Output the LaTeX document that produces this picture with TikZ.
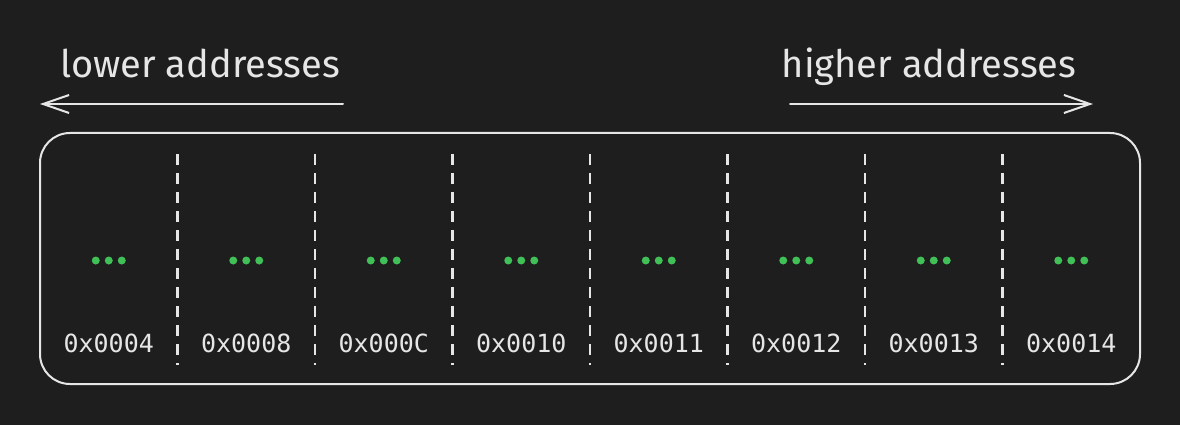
\documentclass[tikz,border=0pt]{standalone}
\usepackage{fontspec}
\setmainfont{Fira Sans}
\newfontfamily\monof{DejaVu Sans Mono}
\usetikzlibrary{arrows.meta}
\definecolor{bg}{HTML}{1E1E1E}
\definecolor{ink}{HTML}{E6E6E6}
\definecolor{dotgreen}{HTML}{40C057}
\tikzset{
  hand/.style={text=ink, font=\fontsize{38}{40}\selectfont, inner sep=0pt, anchor=base},
  addr/.style={text=ink, font=\monof\fontsize{25}{28}\selectfont, inner sep=0pt},
  sep/.style={draw=ink, line width=2.5pt, dash pattern=on 11pt off 8pt},
  dir/.style={draw=ink, line width=2pt, line cap=round, -{Straight Barb[length=26pt,width=18pt,line width=2pt]}},
  gdot/.style={fill=dotgreen, draw=none},
}
\begin{document}
\begin{tikzpicture}[x=1pt,y=-1pt]
\fill[bg] (0,0) rectangle (1180,425);
\useasboundingbox (0,0) rectangle (1180,425);
% headings
\node[hand] (lowtxt) at (200,78) {lower addresses};
\node[hand] (hightxt) at (929,78) {higher addresses};
% arrows
\coordinate (la0) at (343,104);
\coordinate (la1) at (40,104);
\coordinate (ra0) at (790,104);
\coordinate (ra1) at (1093,104);
\draw[dir] (la0) -- (la1);
\draw[dir] (ra0) -- (ra1);
% memory box
\node[draw=ink, line width=2pt, rounded corners=30pt, minimum width=1100pt, minimum height=251pt, inner sep=0pt] (mem) at (590,258.5) {};
% separators
\foreach \i in {1,...,7}{
  \coordinate (st\i) at ({40+137.5*\i},154);
  \coordinate (sb\i) at ({40+137.5*\i},365);
  \draw[sep] (st\i) -- (sb\i);
}
% cells
\foreach \lab [count=\i from 0] in {0x0004,0x0008,0x000C,0x0010,0x0011,0x0012,0x0013,0x0014}{
  \node[addr] (a\i) at ({108.75+137.5*\i},343) {\lab};
  \fill[gdot] ({108.75+137.5*\i-13},260.5) circle (4pt);
  \fill[gdot] ({108.75+137.5*\i},260.5) circle (4pt);
  \fill[gdot] ({108.75+137.5*\i+13},260.5) circle (4pt);
}
\end{tikzpicture}
\end{document}
